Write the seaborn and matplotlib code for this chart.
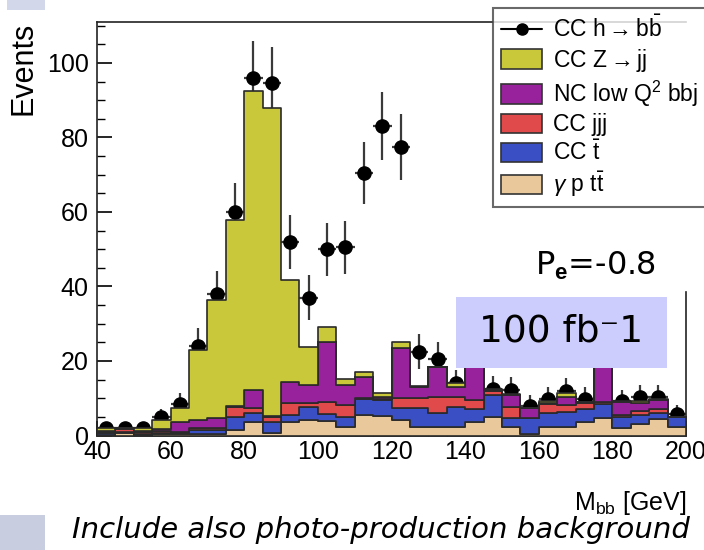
import numpy as np
import pandas as pd
import matplotlib
matplotlib.use('Agg')
import matplotlib.pyplot as plt
import seaborn as sns
from matplotlib.patches import Patch, Rectangle
from matplotlib.lines import Line2D
from matplotlib.ticker import MultipleLocator

# bins de 5 GeV entre 40 e 200
bin_edges = np.arange(40, 205, 5)
bin_centers = bin_edges[:-1] + 2.5

# componentes do fundo (eventos por bin)
gamma_p_tt = [0.2, 0.8, 0.2, 0.3, 0.3, 0.4, 0.4, 1.5, 3.7, 0.6, 3.6, 4.2, 3.8, 2.3, 5.5, 5.3,
              4.2, 2.4, 2.4, 2.4, 3.5, 5.1, 2.4, 0.5, 2.4, 2.4, 3.5, 4.8, 2.0, 3.0, 4.3, 2.4]
cc_t = [0.4, 0.2, 0.3, 0.4, 0.5, 1.2, 1.1, 3.5, 2.3, 3.1, 1.9, 3.5, 2.0, 2.7, 4.2, 4.3,
        3.1, 4.9, 3.6, 5.3, 3.5, 5.8, 2.2, 4.1, 3.7, 4.0, 3.5, 3.6, 3.0, 2.5, 1.8, 2.5]
cc_jjj = [0.3, 0.8, 0.4, 0.5, 0.2, 0.5, 0.6, 2.7, 1.3, 1.3, 3.1, 0.9, 3.3, 3.2, 0.3, 0.3,
          2.7, 2.7, 4.4, 2.7, 2.5, 1.0, 3.1, 0.2, 2.3, 1.8, 1.8, 0.7, 0.5, 1.0, 0.9, 0.1]
nc_bbj = [0.3, 0.2, 0.2, 0.5, 2.7, 2.0, 2.7, 0.2, 4.9, 0.2, 5.8, 4.9, 16.1, 5.4, 5.6, 0.5,
          13.4, 3.1, 7.9, 2.6, 12.0, 0.3, 3.2, 2.5, 0.4, 2.2, 0.2, 9.9, 3.4, 2.3, 2.5, 0.1]
cc_zjj = [0.8, 0.1, 0.8, 2.4, 3.8, 18.9, 31.6, 49.9, 80.3, 82.6, 27.3, 10.2, 3.8, 1.5, 1.5, 0.9,
          1.8, 0.2, 0.1, 1.0, 0.5, 0.2, 0.2, 0.1, 0.4, 0.9, 0.1, 0.2, 0.3, 0.5, 0.3, 0.0]

# sinal + fundo (pontos com barra de erro)
data_points = [2, 2, 2, 5, 8.5, 24, 38, 60, 96, 94.5, 52, 37, 50, 50.5, 70.5, 83,
               77.5, 22.5, 20.5, 14, 24, 12.5, 12.2, 8, 9.8, 12, 9.8, 22, 9.3, 10.4, 10.4, 5.8]
data_errors = [1.4, 1.4, 1.4, 2.2, 2.9, 4.9, 6.2, 7.7, 9.8, 9.7, 7.2, 6.1, 7.1, 7.1, 8.4, 9.1,
               8.8, 4.7, 4.5, 3.7, 4.9, 3.5, 3.5, 2.8, 3.1, 3.5, 3.1, 4.7, 3.0, 3.2, 3.2, 2.4]

processos = ['CC Z->jj', 'NC low Q2 bbj', 'CC jjj', 'CC t', 'gamma p tt']
valores = [cc_zjj, nc_bbj, cc_jjj, cc_t, gamma_p_tt]
cores = ['#c9c83a', '#97229c', '#e04a4a', '#3a4fc4', '#e9c99b']
rotulos = [r'CC Z$\rightarrow$jj', r'NC low Q$^\mathregular{2}$ bbj', 'CC jjj',
           r'CC $\bar{\mathregular{t}}$', r'$\gamma$ p t$\bar{\mathregular{t}}$']

df = pd.concat([pd.DataFrame({'mbb': bin_centers, 'events': v, 'process': p})
                for p, v in zip(processos, valores)], ignore_index=True)

sns.set_style('ticks')
plt.rcParams['font.family'] = ['Liberation Sans', 'DejaVu Sans']
plt.rcParams['mathtext.fontset'] = 'custom'
plt.rcParams['mathtext.rm'] = 'Liberation Sans'
plt.rcParams['mathtext.it'] = 'Liberation Sans:italic'
plt.rcParams['mathtext.bf'] = 'Liberation Sans:bold'
plt.rcParams['text.color'] = 'black'
plt.rcParams['xtick.color'] = 'black'
plt.rcParams['ytick.color'] = 'black'

fig = plt.figure(figsize=(7.04, 5.5), dpi=100)
ax = fig.add_axes([97 / 704, (550 - 435.5) / 550, 589 / 704, 413.5 / 550])

# pontos por baixo do histograma (como no ROOT)
ax.errorbar(bin_centers, data_points, yerr=data_errors, xerr=2.5, fmt='o', color='black',
            ecolor='#3a3a3a', ms=9.5, elinewidth=1.6, capsize=0, zorder=2)

sns.histplot(data=df, x='mbb', weights='events', hue='process', hue_order=processos,
             palette=cores, multiple='stack', binwidth=5, binrange=(40, 200), element='step',
             fill=True, alpha=1, linewidth=1.2, edgecolor='#2a2a2a', legend=False, ax=ax,
             zorder=3)

ax.set_xlim(40, 200)
ax.set_ylim(0, 111)
ax.set_xlabel('')
ax.set_ylabel('')
ax.set_xticks(range(40, 201, 20))
ax.set_yticks(range(0, 101, 20))
ax.xaxis.set_minor_locator(MultipleLocator(5))
ax.yaxis.set_minor_locator(MultipleLocator(5))
ax.tick_params(which='both', direction='in', labelsize=18, top=False, right=False)
ax.tick_params(which='major', length=11, width=1.2)
ax.tick_params(which='minor', length=6, width=1.0)
ax.tick_params(axis='y', pad=6)
ax.tick_params(axis='x', pad=3)
for s in ax.spines.values():
    s.set_linewidth(1.2)
    s.set_color('#222222')
ax.spines['right'].set_bounds(0, 38.5)

ax.text(-0.1256, 1.0, 'Events', rotation=90, ha='center', va='top', fontsize=22,
        transform=ax.transAxes)
ax.text(1.0, -0.163, r'M$_\mathregular{bb}$ [GeV]', ha='right', va='center', fontsize=18,
        transform=ax.transAxes)

# legenda
handles = [Line2D([0], [0], color='black', marker='o', ms=8, lw=1.5)]
handles += [Patch(facecolor=c, edgecolor='#333333', linewidth=1.2) for c in cores]
labels = [r'CC h$\rightarrow$b$\bar{\mathregular{b}}$'] + rotulos
leg = fig.legend(handles, labels, loc='upper left', mode='expand',
                 bbox_to_anchor=(493 / 704, 1 - 207 / 550, (730 - 493) / 704, 199 / 550),
                 fontsize=16.5, frameon=True, fancybox=False, borderaxespad=0,
                 handlelength=1.8, handleheight=0.95, handletextpad=0.45,
                 labelspacing=0.2, borderpad=0.35)
leg.get_frame().set_edgecolor('#444444')
leg.get_frame().set_linewidth(1.5)

fig.text(535 / 704, 1 - 266 / 550, r'P$_\mathbf{e}$=-0.8', fontsize=23, va='center',
         family=['DejaVu Sans'])

fig.add_artist(Rectangle((456 / 704, 1 - 368 / 550), (667 - 456) / 704, (368 - 297) / 550,
                         transform=fig.transFigure, facecolor='#cccdfd', edgecolor='none',
                         zorder=10))
fig.text((456 + 667) / 2 / 704, 1 - 332 / 550, '100 fb\u207b1', fontsize=27, ha='center',
         va='center', zorder=11, family=['DejaVu Sans'])

fig.text(72 / 704, 1 - 530 / 550, 'Include also photo-production background', fontsize=21,
         style='italic', va='center', family=['DejaVu Sans'])

# enfeites do slide
fig.add_artist(Rectangle((7 / 704, 1 - 10 / 550), 38 / 704, 10 / 550, transform=fig.transFigure,
                         facecolor='#d3d7ea', edgecolor='none'))
fig.add_artist(Rectangle((0, 0), 45 / 704, 35 / 550, transform=fig.transFigure,
                         facecolor='#c9cde0', edgecolor='none'))

fig.savefig('out.png', dpi=100)
